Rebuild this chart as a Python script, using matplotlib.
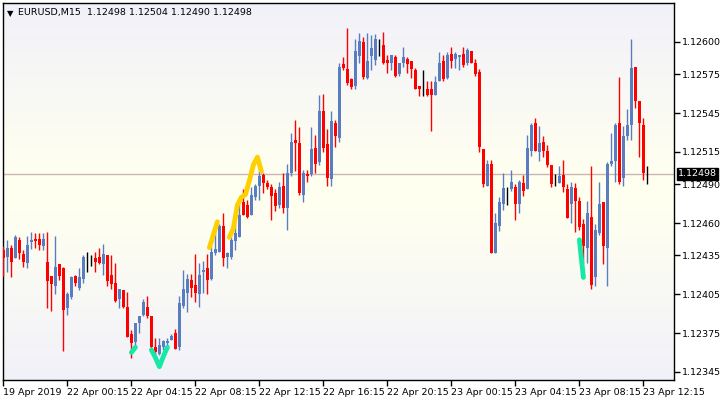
import numpy as np
import matplotlib
matplotlib.use("Agg")
import matplotlib.pyplot as plt
from matplotlib.colors import LinearSegmentedColormap

# OHLC in points (1e-5)
opens = [112439,112434,112441,112433,112447,112436,112429,112445,112448,112448,112442,112430,112419,112411,112428,112425,112394,112403,112419,112410,
112417,112433,112432,112433,112434,112428,112435,112420,112414,112401,112408,112395,112374,112368,112383,112389,112395,112388,112364,112359,
112364,112367,112370,112375,112364,112396,112406,112416,112412,112405,112422,112425,112417,112437,112438,112458,112434,112434,112446,112449,
112476,112474,112466,112480,112489,112497,112491,112488,112483,112474,112489,112472,112499,112524,112522,112482,112498,112498,112518,112507,
112547,112521,112494,112537,112526,112583,112579,112571,112566,112589,112600,112572,112589,112586,112600,112598,112586,112584,112588,112575,
112584,112587,112585,112578,112566,112565,112564,112564,112559,112570,112585,112572,112591,112587,112588,112591,112584,112593,112584,112577,
112517,112489,112506,112437,112458,112475,112486,112486,112488,112475,112491,112486,112516,112537,112515,112523,112516,112505,112490,112491,
112497,112486,112475,112487,112477,112459,112441,112465,112418,112452,112476,112441,112506,112508,112537,112495,112527,112536,112581,112554,
112536,112498]
highs = [112442,112447,112443,112451,112449,112439,112450,112453,112452,112452,112452,112453,112419,112450,112428,112426,112407,112419,112420,112425,
112435,112438,112435,112438,112441,112444,112435,112435,112429,112409,112408,112407,112377,112383,112388,112401,112404,112388,112371,112371,
112370,112371,112374,112378,112404,112424,112421,112421,112436,112429,112431,112436,112442,112460,112459,112468,112438,112449,112459,112478,
112486,112478,112488,112490,112503,112499,112493,112490,112486,112492,112499,112506,112530,112540,112534,112501,112501,112534,112528,112559,
112560,112533,112547,112540,112584,112588,112611,112572,112602,112607,112604,112607,112605,112606,112602,112608,112590,112590,112590,112584,
112596,112588,112585,112580,112566,112578,112570,112570,112574,112592,112590,112592,112596,112592,112590,112596,112595,112593,112587,112579,
112517,112509,112509,112468,112480,112499,112488,112501,112490,112493,112497,112528,112537,112541,112535,112527,112520,112505,112498,112504,
112509,112490,112492,112491,112480,112463,112477,112504,112459,112492,112476,112507,112530,112537,112573,112535,112548,112602,112581,112554,
112541,112504]
lows = [112419,112422,112418,112433,112432,112426,112425,112440,112441,112439,112439,112394,112392,112405,112416,112361,112389,112401,112411,112408,
112414,112422,112427,112422,112428,112420,112411,112409,112399,112394,112394,112372,112356,112363,112375,112388,112387,112363,112358,112358,
112362,112364,112370,112363,112362,112394,112391,112403,112399,112395,112406,112405,112416,112435,112438,112427,112425,112432,112439,112449,
112466,112464,112466,112478,112478,112483,112486,112462,112469,112472,112468,112455,112496,112500,112482,112476,112492,112496,112499,112505,
112515,112489,112489,112519,112523,112578,112567,112564,112564,112584,112571,112571,112578,112582,112589,112583,112576,112578,112573,112574,
112581,112576,112572,112564,112558,112558,112558,112531,112559,112570,112570,112571,112580,112580,112578,112581,112582,112584,112574,112515,
112488,112489,112437,112437,112454,112470,112474,112485,112462,112468,112481,112486,112512,112516,112508,112511,112503,112488,112489,112491,
112484,112464,112460,112453,112455,112429,112429,112409,112411,112451,112428,112411,112504,112492,112490,112489,112524,112524,112549,112511,
112493,112490]
closes = [112433,112441,112430,112449,112437,112430,112443,112447,112446,112443,112448,112415,112413,112426,112419,112393,112405,112418,112414,112418,
112434,112433,112432,112430,112429,112436,112415,112413,112400,112409,112395,112372,112367,112383,112388,112399,112388,112364,112360,112366,
112369,112369,112373,112363,112398,112409,112417,112410,112406,112420,112424,112416,112438,112440,112458,112433,112437,112447,112452,112466,
112466,112465,112482,112489,112496,112491,112488,112481,112473,112488,112472,112499,112523,112522,112483,112499,112496,112517,112506,112547,
112518,112495,112539,112527,112581,112580,112568,112565,112593,112601,112573,112585,112595,112602,112600,112584,112584,112590,112574,112584,
112588,112583,112579,112564,112564,112565,112559,112559,112569,112584,112571,112590,112585,112591,112590,112582,112594,112584,112575,112519,
112490,112506,112437,112460,112476,112487,112486,112492,112475,112492,112485,112518,112536,112516,112522,112516,112505,112490,112490,112496,
112488,112464,112488,112477,112457,112442,112468,112412,112455,112475,112442,112506,112508,112536,112492,112527,112536,112580,112554,112537,
112499,112498]

yellow_idx_1 = [52, 53, 54]
yellow_val_1 = [112441, 112451, 112461]
yellow_idx_2 = [57, 58, 59, 60, 61, 62, 63, 64, 65]
yellow_val_2 = [112449, 112456, 112474, 112480, 112482, 112493, 112505, 112511, 112500]
green_idx_1 = [32, 33]
green_val_1 = [112360, 112364]
green_idx_2 = [37, 38, 39, 40, 41]
green_val_2 = [112362, 112356, 112349, 112357, 112364]
green_idx_3 = [144, 145]
green_val_3 = [112447, 112418]

ytick_vals = [1.12600, 1.12575, 1.12545, 1.12515, 1.12490, 1.12460, 1.12435, 1.12405, 1.12375, 1.12345]
xtick_idx = [0, 16, 32, 48, 64, 80, 96, 112, 128, 144, 160]
xtick_labels = ["19 Apr 2019", "22 Apr 00:15", "22 Apr 04:15", "22 Apr 08:15", "22 Apr 12:15",
                "22 Apr 16:15", "22 Apr 20:15", "23 Apr 00:15", "23 Apr 04:15", "23 Apr 08:15", "23 Apr 12:15"]
last_price = 1.12498
title = "EURUSD,M15  1.12498 1.12504 1.12490 1.12498"

P = lambda a: np.asarray(a) / 1e5
o, h, l, c = P(opens), P(highs), P(lows), P(closes)
x = np.arange(len(o))

fig = plt.figure(figsize=(7.2, 4.0), dpi=100)
fig.patch.set_facecolor("white")
ax = fig.add_axes([3/720, 20/400, 671/720, 377/400])
ylo, yhi = 1.123387, 1.126301
ax.set_xlim(-0.1, 167.65)
ax.set_ylim(ylo, yhi)

cmap = LinearSegmentedColormap.from_list("bg", [(0, "#f1f1fa"), (0.45, "#fffff0"), (0.55, "#fffff0"), (1, "#f1f1fa")])
grad = np.linspace(0, 1, 256).reshape(-1, 1)
ax.imshow(grad, extent=[-0.1, 167.65, ylo, yhi], aspect="auto", cmap=cmap, origin="upper", zorder=0)

ax.axhline(last_price, color="#c8b4b4", lw=1, zorder=1)

blue, red = "#5a7cc0", "#ff0000"
cols = [blue if cc > oo else (red if cc < oo else "black") for oo, cc in zip(o, c)]
ax.vlines(x, l, h, colors=cols, lw=1, zorder=3)
bot = np.minimum(o, c)
ht = np.abs(c - o)
ax.bar(x, np.maximum(ht, 0.2e-5), bottom=bot, width=0.7, color=cols, lw=0, zorder=4)

for yi, yv in [(yellow_idx_1, yellow_val_1), (yellow_idx_2, yellow_val_2)]:
    ax.plot(np.asarray(yi) - 0.5, P(yv), color="#ffd000", lw=3.5, zorder=5, solid_capstyle="round")
for gi, gv in [(green_idx_1, green_val_1), (green_idx_2, green_val_2), (green_idx_3, green_val_3)]:
    ax.plot(gi, P(gv), color="#17e8a6", lw=3.5, zorder=5, solid_capstyle="round")

ax.yaxis.tick_right()
ax.set_yticks(ytick_vals)
ax.set_yticklabels([f"{v:.5f}" for v in ytick_vals], fontsize=6.8)
ax.set_xticks(xtick_idx)
ax.set_xticklabels(xtick_labels, fontsize=6.8, ha="left")
ax.tick_params(axis="both", length=4, width=1, direction="out", pad=2)
for s in ax.spines.values():
    s.set_color("black")
    s.set_linewidth(1)

ax.text(1.006, last_price, f"{last_price:.5f}", transform=ax.get_yaxis_transform(), fontsize=6.8,
        color="white", va="center", ha="left",
        bbox=dict(boxstyle="square,pad=0.15", fc="black", ec="black"), zorder=10)
ax.text(4/671, 0.985, "\u25bc", transform=ax.transAxes, fontsize=6, va="top", ha="left")
ax.text(15/671, 0.988, title, transform=ax.transAxes, fontsize=6.8, va="top", ha="left")

fig.savefig("out.png", dpi=100)
